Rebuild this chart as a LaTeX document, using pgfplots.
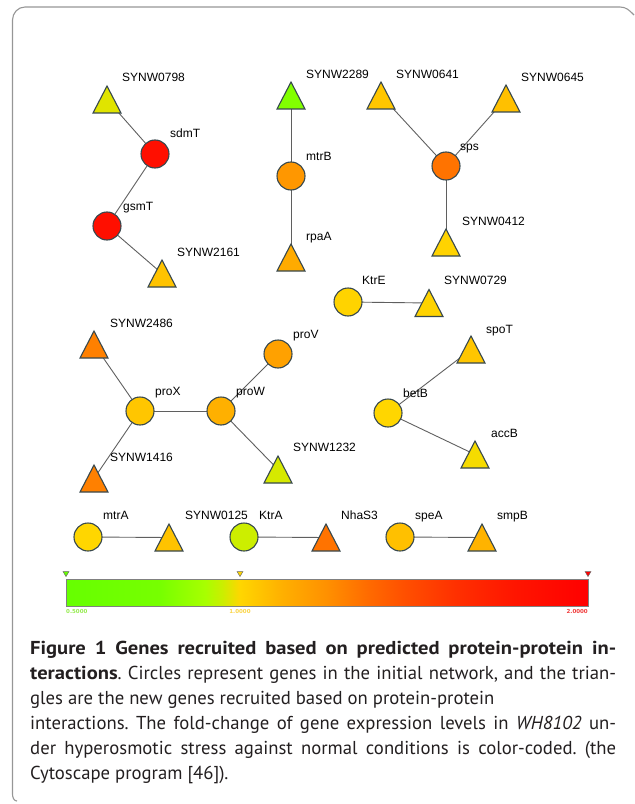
\documentclass[border=0pt]{standalone}
\usepackage{pgfplots}
\pgfplotsset{compat=1.18}
\usepackage{pgfplotstable}
\usepackage{fontspec}
\setmainfont{PT Sans}[BoldFeatures={FakeStretch=1.1}]
\newfontfamily\labfont{Liberation Sans}
\newfontfamily\barfont{DejaVu Sans}
\frenchspacing
\definecolor{edgecol}{RGB}{95,95,95}
\definecolor{nodeline}{RGB}{55,72,78}
\definecolor{framecol}{RGB}{150,150,150}
\definecolor{captxt}{RGB}{35,31,32}
\tikzset{lab/.style={font=\labfont\fontsize{12bp}{14bp}\selectfont, inner sep=0pt, anchor=base west, text=black}}
\pgfplotsset{edge/.style={color=edgecol, line width=0.9bp, forget plot}}

\pgfdeclareplotmark{tri}{%
  \pgfpathmoveto{\pgfqpoint{0bp}{13.5bp}}%
  \pgfpathlineto{\pgfqpoint{-14bp}{-13.5bp}}%
  \pgfpathlineto{\pgfqpoint{14bp}{-13.5bp}}%
  \pgfpathclose
  \pgfusepathqfillstroke}
\pgfdeclareplotmark{smalltri}{%
  \pgfpathmoveto{\pgfqpoint{0bp}{-2.5bp}}%
  \pgfpathlineto{\pgfqpoint{-3bp}{2.5bp}}%
  \pgfpathlineto{\pgfqpoint{3bp}{2.5bp}}%
  \pgfpathclose
  \pgfusepathqfillstroke}

% circles: x y fold-change
\pgfplotstableread{
x y fc
155 154 1.85
107 226 1.85
291 176 1.22
446 166 1.34
348 302 1.01
388 413 1.00
140 411 1.05
221 411 1.12
278 354 1.18
88 537 1.00
244 537 0.95
400 537 1.07
}\circles

% triangles: x y fold-change
\pgfplotstableread{
x y fc
107 99.5 0.97
162 273.5 1.06
291 95.5 0.80
291 257.5 1.14
381 95.5 1.05
506 98.5 1.07
446 242.5 1.01
429 303 1.01
471 349.5 1.05
475 454.5 0.99
94 344.5 1.30
94 478.5 1.30
278 469.5 0.96
169 537.5 1.06
326 537.5 1.34
482 537.5 1.11
}\triangles

\begin{document}
\begin{tikzpicture}
\begin{axis}[
  width=634bp, height=804bp, scale only axis,
  xmin=0, xmax=634, ymin=0, ymax=804, y dir=reverse,
  axis lines=none, clip=false,
  colormap={cyto}{rgb255(0pt)=(102,255,0); rgb255(27pt)=(119,255,0); rgb255(40pt)=(168,255,0); rgb255(45pt)=(204,238,0); rgb255(50pt)=(255,214,0); rgb255(62pt)=(255,176,0); rgb255(75pt)=(255,144,0); rgb255(87pt)=(255,106,0); rgb255(97pt)=(255,80,0); rgb255(112pt)=(255,48,0); rgb255(129pt)=(255,21,0); rgb255(150pt)=(255,0,0)},
  point meta min=0.5, point meta max=2.0,
]
% fixed picture extent
\path (axis cs:0,0) rectangle (axis cs:634,804);
% frame
\draw[framecol, line width=1.1bp] (axis cs:17,801) to[out=180,in=-90] (axis cs:12.5,794) -- (axis cs:12.5,20) to[out=90,in=180] (axis cs:25,7) -- (axis cs:620,7) to[out=0,in=135] (axis cs:634,15);

% edges
\addplot[edge] coordinates {(107,99.5) (155,154)};
\addplot[edge] coordinates {(155,154) (107,226)};
\addplot[edge] coordinates {(107,226) (162,273.5)};
\addplot[edge] coordinates {(291,95.5) (291,176)};
\addplot[edge] coordinates {(291,176) (291,257.5)};
\addplot[edge] coordinates {(381,95.5) (446,166)};
\addplot[edge] coordinates {(506,98.5) (446,166)};
\addplot[edge] coordinates {(446,166) (446,242.5)};
\addplot[edge] coordinates {(348,302) (429,303)};
\addplot[edge] coordinates {(471,349.5) (388,413)};
\addplot[edge] coordinates {(388,413) (475,454.5)};
\addplot[edge] coordinates {(94,344.5) (140,411)};
\addplot[edge] coordinates {(140,411) (94,478.5)};
\addplot[edge] coordinates {(140,411) (221,411)};
\addplot[edge] coordinates {(221,411) (278,354)};
\addplot[edge] coordinates {(221,411) (278,469.5)};
\addplot[edge] coordinates {(88,537) (169,537.5)};
\addplot[edge] coordinates {(244,537) (326,537.5)};
\addplot[edge] coordinates {(400,537) (482,537.5)};

% nodes
\addplot[scatter, only marks, mark=*, mark size=14bp, point meta=explicit,
  scatter/use mapped color={draw=nodeline, fill=mapped color},
  mark options={line width=1.1bp}] table[x=x, y=y, meta=fc] {\circles};
\addplot[scatter, only marks, mark=tri, point meta=explicit,
  scatter/use mapped color={draw=nodeline, fill=mapped color},
  mark options={line width=1.1bp}] table[x=x, y=y, meta=fc] {\triangles};

% labels
\node[lab] at (axis cs:122,81.5) {SYNW0798};
\node[lab] at (axis cs:170,137.5) {sdmT};
\node[lab] at (axis cs:123,210.5) {gsmT};
\node[lab] at (axis cs:177,256.5) {SYNW2161};
\node[lab] at (axis cs:306,78.5) {SYNW2289};
\node[lab] at (axis cs:306,160.5) {mtrB};
\node[lab] at (axis cs:306,240.5) {rpaA};
\node[lab] at (axis cs:396,78.5) {SYNW0641};
\node[lab] at (axis cs:521,81.5) {SYNW0645};
\node[lab] at (axis cs:460,150.5) {sps};
\node[lab] at (axis cs:462,225.5) {SYNW0412};
\node[lab] at (axis cs:362,284.5) {KtrE};
\node[lab] at (axis cs:444,284.5) {SYNW0729};
\node[lab] at (axis cs:486,333.5) {spoT};
\node[lab] at (axis cs:403,397.5) {betB};
\node[lab] at (axis cs:491,437.5) {accB};
\node[lab] at (axis cs:110,327.5) {SYNW2486};
\node[lab] at (axis cs:155,395.5) {proX};
\node[lab] at (axis cs:236,395.5) {proW};
\node[lab] at (axis cs:293,338.5) {proV};
\node[lab] at (axis cs:110,461.5) {SYNW1416};
\node[lab] at (axis cs:293,451.5) {SYNW1232};
\node[lab] at (axis cs:103,519.5) {mtrA};
\node[lab] at (axis cs:185,519.5) {SYNW0125};
\node[lab] at (axis cs:259,519.5) {KtrA};
\node[lab] at (axis cs:341,519.5) {NhaS3};
\node[lab] at (axis cs:415,519.5) {speA};
\node[lab] at (axis cs:497,519.5) {smpB};

% colour bar
\addplot[surf, shader=interp, mesh/rows=2, point meta=explicit, forget plot] table[x=x, y=y, meta=c] {
x y c
66 579 0.5
588 579 2.0
66 606 0.5
588 606 2.0
};
\draw[gray, line width=0.8bp] (axis cs:66,579) rectangle (axis cs:588,606);
\addplot[scatter, only marks, mark=smalltri, point meta=explicit,
  scatter/use mapped color={draw=gray!80!black, fill=mapped color},
  mark options={line width=0.5bp}] table[x=x, y=y, meta=c] {
x y c
66 574 0.5
240 574 1.0
588 574 2.0
};
\node[font=\barfont\bfseries\fontsize{5.5bp}{6bp}\selectfont, text={rgb,255:red,150;green,235;blue,80}, anchor=west, inner sep=0pt] at (axis cs:66,611.5) {0.5000};
\node[font=\barfont\bfseries\fontsize{5.5bp}{6bp}\selectfont, text={rgb,255:red,250;green,212;blue,70}, anchor=center, inner sep=0pt] at (axis cs:240,611.5) {1.0000};
\node[font=\barfont\bfseries\fontsize{5.5bp}{6bp}\selectfont, text={rgb,255:red,240;green,60;blue,60}, anchor=east, inner sep=0pt] at (axis cs:588,611.5) {2.0000};

% caption
\begin{scope}[every node/.style={anchor=base west, inner sep=0pt, text=captxt, font=\fontsize{18.7bp}{22bp}\selectfont}]
\node at (axis cs:30,654) {\makebox[586bp][s]{\textbf{Figure 1 Genes recruited based on predicted protein-protein in-}}};
\node at (axis cs:30,679) {\makebox[586bp][s]{\textbf{teractions}. Circles represent genes in the initial network, and the trian-}};
\node at (axis cs:30,704) {gles are the new genes recruited based on protein-protein};
\node at (axis cs:30,729) {\makebox[586bp][s]{interactions. The fold-change of gene expression levels in \textit{WH8102} un-}};
\node at (axis cs:30,754) {\makebox[586bp][s]{der hyperosmotic stress against normal conditions is color-coded. (the}};
\node at (axis cs:30,779) {Cytoscape program [46]).};
\end{scope}
\end{axis}
\end{tikzpicture}
\end{document}
